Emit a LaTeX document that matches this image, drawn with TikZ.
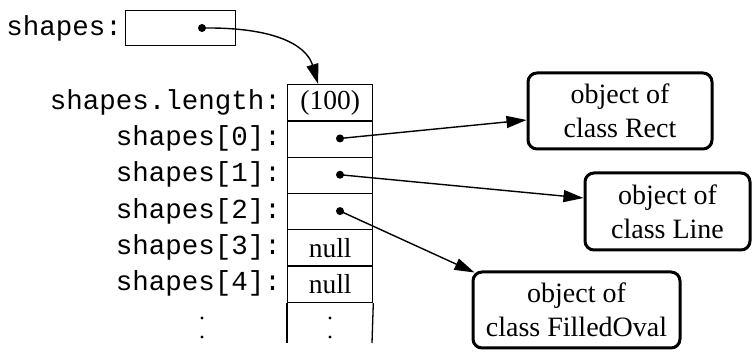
\documentclass[tikz,border=0pt]{standalone}
\usepackage{fontspec}
\setmainfont{Liberation Serif}
\setmonofont{Liberation Mono}
\usetikzlibrary{arrows.meta,calc}
\begin{document}
\begin{tikzpicture}[x=1pt,y=-1pt,
  cell/.style={draw,line width=1.3pt,minimum width=85pt,minimum height=36.3pt,inner sep=0pt,anchor=north west,font=\fontsize{27.5}{28}\selectfont},
  lbl/.style={anchor=east,inner sep=0pt,font=\ttfamily\fontsize{27.5}{28}\selectfont},
  obj/.style={draw,line width=3pt,rounded corners=9pt,align=center,inner sep=0pt,font=\fontsize{28}{34}\selectfont},
  ptr/.style={-{Triangle[length=20pt,width=12pt]},line width=1.4pt},
  ptrdot/.style={circle,fill,inner sep=0pt,minimum size=8pt},
  edot/.style={circle,fill,inner sep=0pt,minimum size=3.4pt}]
\useasboundingbox (0,0) rectangle (756,352);
% variable box
\node[draw,line width=1.3pt,minimum width=110pt,minimum height=35pt,inner sep=0pt,anchor=north west] (var) at (125,10) {};
\node[lbl] (varlbl) at (122,28) {shapes:};
\node[ptrdot] (dv) at (202,28) {};
% array cells
\node[cell] (c0) at (287,84) {(100)};
\node[cell] (c1) at (287,120.3) {};
\node[cell] (c2) at (287,156.6) {};
\node[cell] (c3) at (287,192.9) {};
\node[cell] (c4) at (287,229.2) {null};
\node[cell] (c5) at (287,265.5) {null};
\coordinate (bl) at (287,343);
\coordinate (br) at (372,343);
\draw[line width=1.3pt] (c5.south west) -- (bl);
\draw[line width=1.3pt] (c5.south east) -- (br);
\node[edot] (cdot1) at (330,318) {};
\node[edot] (cdot2) at (330,337) {};
% labels
\node[lbl] (l0) at (281,102.15) {shapes.length:};
\node[lbl] (l1) at (281,138.45) {shapes[0]:};
\node[lbl] (l2) at (281,174.75) {shapes[1]:};
\node[lbl] (l3) at (281,211.05) {shapes[2]:};
\node[lbl] (l4) at (281,247.35) {shapes[3]:};
\node[lbl] (l5) at (281,283.65) {shapes[4]:};
\node[edot] (ldot1) at (202,318) {};
\node[edot] (ldot2) at (202,337) {};
% pointer dots
\node[ptrdot] (d0) at (340,138.45) {};
\node[ptrdot] (d1) at (340,174.75) {};
\node[ptrdot] (d2) at (340,211.05) {};
% objects
\node[obj,minimum width=184pt,minimum height=76pt] (rect) at (620,111) {object of\\class Rect};
\node[obj,minimum width=165pt,minimum height=77pt] (line) at (667.5,211.5) {object of\\class Line};
\node[obj,minimum width=207pt,minimum height=76pt] (oval) at (576.5,310) {object of\\class FilledOval};
% arrows
\draw[ptr] (dv.center) .. controls (285,27) and (308,50) .. ([xshift=-12pt]c0.north);
\draw[ptr] (d0.center) -- ([yshift=-9pt]rect.west);
\draw[ptr] (d1.center) -- ([yshift=13.5pt]line.west);
\draw[ptr] (d2.center) -- ([xshift=3pt,yshift=-2pt]oval.north west);
\end{tikzpicture}
\end{document}
